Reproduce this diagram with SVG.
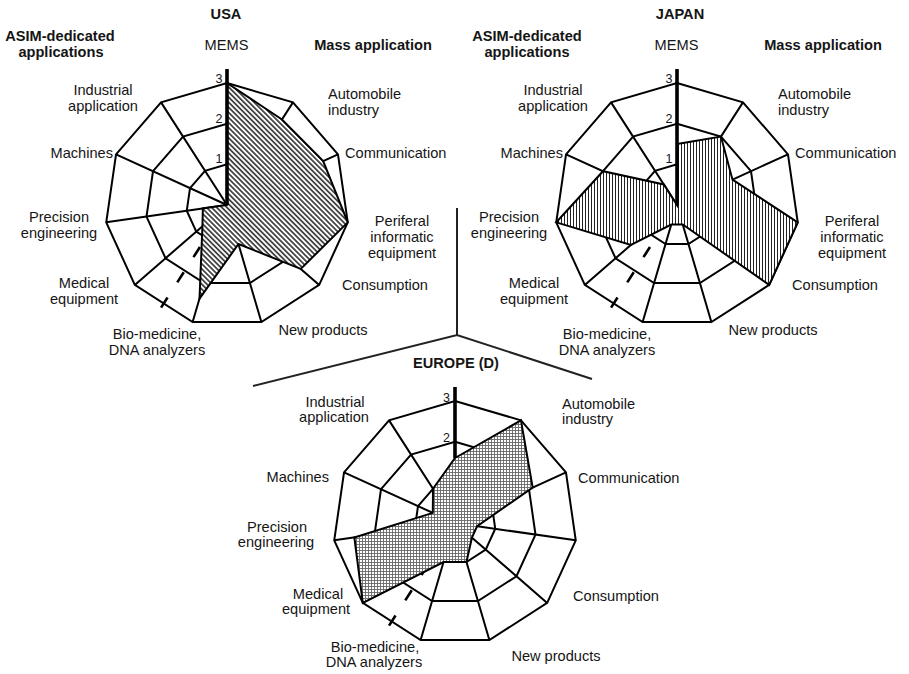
<svg xmlns="http://www.w3.org/2000/svg" xmlns:xlink="http://www.w3.org/1999/xlink" width="909" height="674" viewBox="0 0 909 674">
<style>
text{font-family:"Liberation Sans",Arial,sans-serif;font-size:14.6px;fill:#151515}
.b{font-weight:bold}
.m{text-anchor:middle}
.e{text-anchor:end}
.n{font-size:12.5px;text-anchor:end}
.gl{fill:none;stroke:#000;stroke-width:2;stroke-linejoin:miter}
.dash{fill:none;stroke:#000;stroke-width:2.6;stroke-dasharray:12 18}
.ax{stroke:#000;stroke-width:3.6}
.data{stroke:#000;stroke-width:2;stroke-linejoin:miter}
</style>
<defs>
<pattern id="pUSA" width="3.6" height="3.6" patternUnits="userSpaceOnUse" patternTransform="rotate(-45)">
<rect width="3.6" height="3.6" fill="#fff"/>
<line x1="1.8" y1="0" x2="1.8" y2="3.6" stroke="#111" stroke-width="1.4"/>
</pattern>
<pattern id="pJP" width="3" height="3" patternUnits="userSpaceOnUse">
<rect width="3" height="3" fill="#fff"/>
<line x1="1.5" y1="0" x2="1.5" y2="3" stroke="#222" stroke-width="1"/>
</pattern>
<pattern id="pEU" width="3" height="3" patternUnits="userSpaceOnUse">
<rect width="3" height="3" fill="#fff"/>
<path d="M0 0.5H3M0.5 0V3" stroke="#666" stroke-width="0.9"/>
</pattern>
<g id="grid">
<g class="gl">
<polygon points="0,-122 65.95,-102.64 110.97,-50.68 120.76,17.36 92.2,79.9 34.37,117.06 -34.37,117.06 -92.2,79.9 -120.76,17.36 -110.97,-50.68 -65.95,-102.64"/>
<polygon points="0,-81.33 43.97,-68.42 73.98,-33.78 80.5,11.57 61.46,53.26 22.91,78.04 -22.91,78.04 -61.46,53.26 -80.5,11.57 -73.98,-33.78 -43.97,-68.42"/>
<polygon points="0,-40.67 21.99,-34.22 36.99,-16.89 40.25,5.79 30.73,26.63 11.46,39.02 -11.46,39.02 -30.73,26.63 -40.25,5.79 -36.99,-16.89 -21.99,-34.22"/>
<path d="M0,0V-122M0,0L65.95,-102.64M0,0L110.97,-50.68M0,0L120.76,17.36M0,0L92.2,79.9M0,0L34.37,117.06M0,0L-34.37,117.06M0,0L-92.2,79.9M0,0L-120.76,17.36M0,0L-110.97,-50.68M0,0L-65.95,-102.64"/>
</g>
<line class="dash" x1="-27.03" y1="42.07" x2="-65.95" y2="102.64"/>
</g>
</defs>
<rect width="909" height="674" fill="#fff"/>

<g id="connectors">
<path d="M457 208V335M253 386L457 335L592 379" fill="none" stroke="#222" stroke-width="2"/>
</g>

<g id="usa">
<g transform="translate(227,205)">
<use xlink:href="#grid" href="#grid"/>
<polygon class="data" fill="url(#pUSA)" points="0,-122 54.97,-85.54 96.17,-43.92 120.76,17.36 73.76,63.92 11.46,39.02 -27.49,93.65 -24.57,21.29 -24.15,3.47 0,0"/>
<line class="ax" x1="0" y1="-136" x2="0" y2="0"/>
<text class="n" x="-4.5" y="-122">3</text>
<text class="n" x="-4.5" y="-82">2</text>
<text class="n" x="-4.5" y="-42">1</text>
</g>
<text class="b m" x="226" y="19">USA</text>
<text class="b m" x="60" y="41">ASIM-dedicated</text>
<text class="b m" x="61" y="57">applications</text>
<text class="m" x="226.5" y="50">MEMS</text>
<text class="b m" x="373" y="50">Mass application</text>
<text class="m" x="103" y="95">Industrial</text>
<text class="m" x="103" y="111">application</text>
<text x="328" y="99">Automobile</text>
<text x="328" y="115">industry</text>
<text x="345" y="158">Communication</text>
<text class="m" x="402" y="226">Periferal</text>
<text class="m" x="402" y="242">informatic</text>
<text class="m" x="402" y="258">equipment</text>
<text x="342" y="290">Consumption</text>
<text class="m" x="323" y="335">New products</text>
<text class="m" x="157" y="339">Bio-medicine,</text>
<text class="m" x="157" y="355">DNA analyzers</text>
<text class="m" x="84" y="288">Medical</text>
<text class="m" x="84" y="304">equipment</text>
<text class="m" x="59" y="222">Precision</text>
<text class="m" x="59" y="238">engineering</text>
<text class="e" x="113" y="158">Machines</text>
</g>

<g id="japan">
<g transform="translate(677,205)">
<use xlink:href="#grid" href="#grid"/>
<polygon class="data" fill="url(#pJP)" points="0,-61 43.97,-68.42 55.49,-25.34 120.76,17.36 92.2,79.9 5.73,19.51 -5.73,19.51 -46.1,39.95 -120.76,17.36 -73.98,-33.78 -13.19,-20.53 0,0"/>
<line class="ax" x1="0" y1="-136" x2="0" y2="0"/>
<text class="n" x="-4.5" y="-122">3</text>
<text class="n" x="-4.5" y="-82">2</text>
<text class="n" x="-4.5" y="-42">1</text>
</g>
<text class="b m" x="680" y="19">JAPAN</text>
<text class="b m" x="527" y="41">ASIM-dedicated</text>
<text class="b m" x="527" y="57">applications</text>
<text class="m" x="676.5" y="50">MEMS</text>
<text class="b m" x="823" y="50">Mass application</text>
<text class="m" x="553" y="95">Industrial</text>
<text class="m" x="553" y="111">application</text>
<text x="778" y="99">Automobile</text>
<text x="778" y="115">industry</text>
<text x="795" y="158">Communication</text>
<text class="m" x="852" y="226">Periferal</text>
<text class="m" x="852" y="242">informatic</text>
<text class="m" x="852" y="258">equipment</text>
<text x="792" y="290">Consumption</text>
<text class="m" x="773" y="335">New products</text>
<text class="m" x="607" y="339">Bio-medicine,</text>
<text class="m" x="607" y="355">DNA analyzers</text>
<text class="m" x="534" y="288">Medical</text>
<text class="m" x="534" y="304">equipment</text>
<text class="m" x="509" y="222">Precision</text>
<text class="m" x="509" y="238">engineering</text>
<text class="e" x="563" y="158">Machines</text>
</g>

<g id="europe">
<g transform="translate(455,523)">
<use xlink:href="#grid" href="#grid"/>
<polygon class="data" fill="url(#pEU)" points="0,-65 65.95,-102.64 77.68,-35.48 22.17,3.19 16.93,14.67 11.46,39.02 -11.46,39.02 -92.2,79.9 -100.66,14.47 -22.19,-10.14 -21.99,-34.22"/>
<line class="ax" x1="0" y1="-136" x2="0" y2="-65"/>
<text class="n" x="-5" y="-121">3</text>
<text class="n" x="-5" y="-81">2</text>
</g>
<text class="b m" x="456" y="368">EUROPE (D)</text>
<text class="m" x="335" y="407">Industrial</text>
<text class="m" x="334" y="422">application</text>
<text x="562" y="409">Automobile</text>
<text x="562" y="424">industry</text>
<text class="e" x="329" y="482">Machines</text>
<text x="578" y="483">Communication</text>
<text class="m" x="277" y="532">Precision</text>
<text class="m" x="276" y="547">engineering</text>
<text x="573" y="601">Consumption</text>
<text class="m" x="318" y="599">Medical</text>
<text class="m" x="316" y="614">equipment</text>
<text class="m" x="556" y="661">New products</text>
<text class="m" x="375" y="652">Bio-medicine,</text>
<text class="m" x="374" y="667">DNA analyzers</text>
</g>
</svg>
